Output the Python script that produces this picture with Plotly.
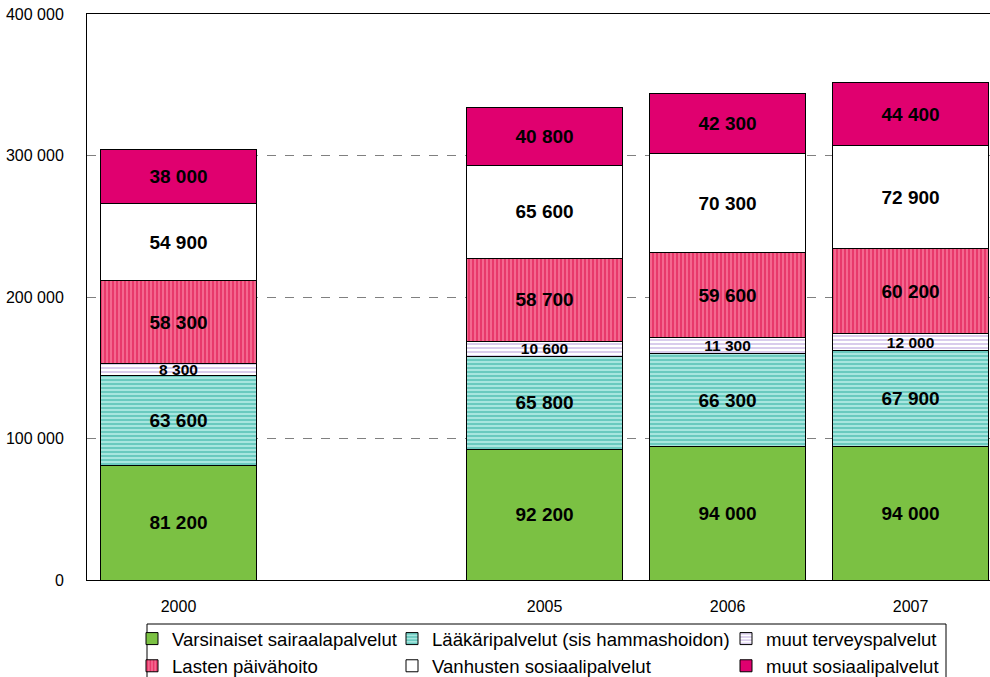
import plotly.graph_objects as go

years = ["2000", "2005", "2006", "2007"]
category_order = ["2000", " ", "2005", "2006", "2007"]

varsinaiset = [81200, 92200, 94000, 94000]
laakari = [63600, 65800, 66300, 67900]
muut_terveys = [8300, 10600, 11300, 12000]
lasten = [58300, 58700, 59600, 60200]
vanhusten = [54900, 65600, 70300, 72900]
muut_sosiaali = [38000, 40800, 42300, 44400]

series = [
    ("Varsinaiset sairaalapalvelut", varsinaiset, "#7bc143", None, None, 19, "legend"),
    ("Lääkäripalvelut (sis hammashoidon)", laakari, "#a8e6df", "-", "#4fbfb2", 19, "legend2"),
    ("muut terveyspalvelut", muut_terveys, "#ffffff", "-", "#c9b6e4", 15.5, "legend3"),
    ("Lasten päivähoito", lasten, "#f4688f", "|", "#e4245c", 19, "legend"),
    ("Vanhusten sosiaalipalvelut", vanhusten, "#ffffff", None, None, 19, "legend2"),
    ("muut sosiaalipalvelut", muut_sosiaali, "#e0006f", None, None, 19, "legend3"),
]

fig = go.Figure()
for name, vals, color, shape, fg, fsize, leg in series:
    marker = dict(color=color, line=dict(color="#000000", width=1))
    if shape:
        marker["pattern"] = dict(shape=shape, fgcolor=fg, bgcolor=color,
                                 size=4, solidity=0.35, fillmode="replace")
    fig.add_trace(go.Bar(
        x=years, y=vals, name=name, marker=marker, width=0.85,
        texttemplate="%{y:,d}", textposition="inside", insidetextanchor="middle",
        textangle=0, constraintext="none",
        textfont=dict(family="Liberation Sans, Arial", size=fsize, color="#000000", weight="bold"),
        legend=leg,
    ))

leg_common = dict(font=dict(family="Liberation Sans, Arial", size=18.6, color="#000000"),
                  bgcolor="rgba(0,0,0,0)", borderwidth=0, orientation="v",
                  traceorder="normal", xanchor="left", yanchor="top",
                  itemclick=False, tracegroupgap=0)

def px_x(x):
    return (x - 87) / 903.0

def px_y(y):
    return (580 - y) / 566.0

fig.update_layout(
    width=990, height=677,
    margin=dict(l=87, r=0, t=14, b=97, autoexpand=False),
    barmode="stack",
    separators=", ",
    plot_bgcolor="#ffffff",
    paper_bgcolor="#ffffff",
    font=dict(family="Liberation Sans, Arial", size=16, color="#000000"),
    legend=dict(x=px_x(132), y=px_y(620), **leg_common),
    legend2=dict(x=px_x(392), y=px_y(620), **leg_common),
    legend3=dict(x=px_x(726), y=px_y(620), **leg_common),
    shapes=[dict(type="rect", xref="paper", yref="paper",
                 x0=px_x(147), x1=px_x(946), y0=px_y(720), y1=px_y(624),
                 line=dict(color="#000000", width=1), fillcolor="rgba(0,0,0,0)")],
)

fig.update_xaxes(
    type="category", categoryorder="array", categoryarray=category_order,
    range=[-0.5, 4.434], showline=True, mirror=True, linecolor="#000000", linewidth=1,
    showgrid=False, ticks="", ticklabelstandoff=12,
    tickfont=dict(family="Liberation Sans, Arial", size=16, color="#000000"),
)
fig.update_yaxes(
    range=[0, 400000], tickvals=[0, 100000, 200000, 300000, 400000], tickformat=",d",
    showline=True, linecolor="#000000", linewidth=1, mirror=False,
    showgrid=True, gridcolor="#808080", griddash="dash", gridwidth=1,
    zeroline=False, ticks="", ticklabelstandoff=19,
    tickfont=dict(family="Liberation Sans, Arial", size=16, color="#000000"),
)

fig.write_html("out.html", config={"displayModeBar": False},
               post_script="document.body.style.margin='0px';document.body.style.overflow='hidden';")
